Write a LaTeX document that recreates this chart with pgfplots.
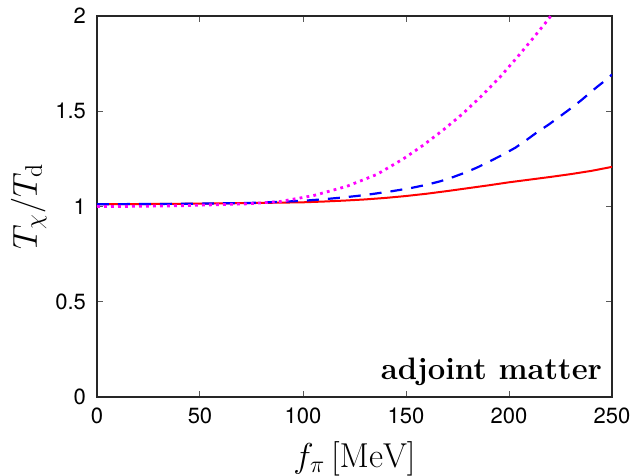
\documentclass[border=0pt]{standalone}
\usepackage{fontspec}
\usepackage{pgfplots}
\pgfplotsset{compat=1.18}
\newfontfamily\heros{TeX Gyre Heros}
\definecolor{mag}{RGB}{255,0,255}
\begin{document}
\begin{tikzpicture}
\begin{axis}[
  scale only axis,
  width=257.5pt, height=190.5pt,
  xmin=0, xmax=250, ymin=0, ymax=2,
  xtick={0,50,...,250},
  ytick={0,0.5,1,1.5,2},
  tick align=inside,
  major tick length=3pt,
  tick style={line width=0.5pt, gray!70!black},
  axis line style={line width=0.7pt, black!85},
  /pgf/number format/assume math mode=true,
  tick label style={font=\heros\fontsize{11}{12}\selectfont},
  yticklabel style={xshift=-2pt},
  xticklabel style={yshift=-2pt},
  label style={font=\fontsize{17.28}{20}\selectfont},
  xlabel={$f_\pi\,[\mathrm{MeV}]$},
  ylabel={$T_\chi/T_\mathrm{d}$},
  xlabel style={yshift=-2pt},
  ylabel style={yshift=-2.5pt},
  clip=true,
]
\addplot[red, line width=1pt] coordinates {
(0,1.012)(25,1.013)(50,1.015)(75,1.018)(100,1.022)(110,1.026)(120,1.031)(130,1.037)
(140,1.045)(150,1.055)(160,1.067)(170,1.081)(180,1.096)(190,1.111)(200,1.127)(210,1.141)
(220,1.155)(230,1.170)(240,1.187)(250,1.208)};
\addplot[blue, line width=1.1pt, dash pattern=on 6pt off 4.5pt] coordinates {
(0,1.012)(25,1.013)(50,1.015)(75,1.019)(90,1.025)(100,1.030)(110,1.038)(118,1.046)
(126,1.055)(134,1.066)(143,1.080)(152,1.096)(160,1.114)(166.5,1.132)(173,1.155)
(179.5,1.181)(185,1.207)(190.8,1.238)(197,1.272)(203,1.308)(208,1.345)(213.4,1.388)
(219,1.428)(224,1.467)(230,1.515)(235,1.557)(239,1.594)(243,1.630)(247,1.664)(250,1.693)};
\addplot[mag, line width=1.4pt, dash pattern=on 1.4pt off 2.1pt] coordinates {
(0,1.0)(20,1.001)(40,1.004)(56.5,1.009)(72.7,1.014)(88.8,1.026)(105,1.057)(121.3,1.106)
(135.8,1.168)(148.7,1.250)(158.4,1.322)(168.1,1.402)(177,1.482)(186,1.573)(195.6,1.679)
(204.5,1.790)(211.8,1.885)(217.5,1.961)(221,2.01)};
\node[anchor=base east, font=\fontsize{15.5}{18}\selectfont\bfseries]
  at (rel axis cs:1,0) [xshift=-1.5pt, yshift=9pt] {adjoint matter};
\end{axis}
\pgfresetboundingbox
\path (current axis.south west) ++(-48.5pt,-39.5pt) rectangle ([shift={(12.5pt,8pt)}]current axis.north east);
\end{tikzpicture}
\end{document}
